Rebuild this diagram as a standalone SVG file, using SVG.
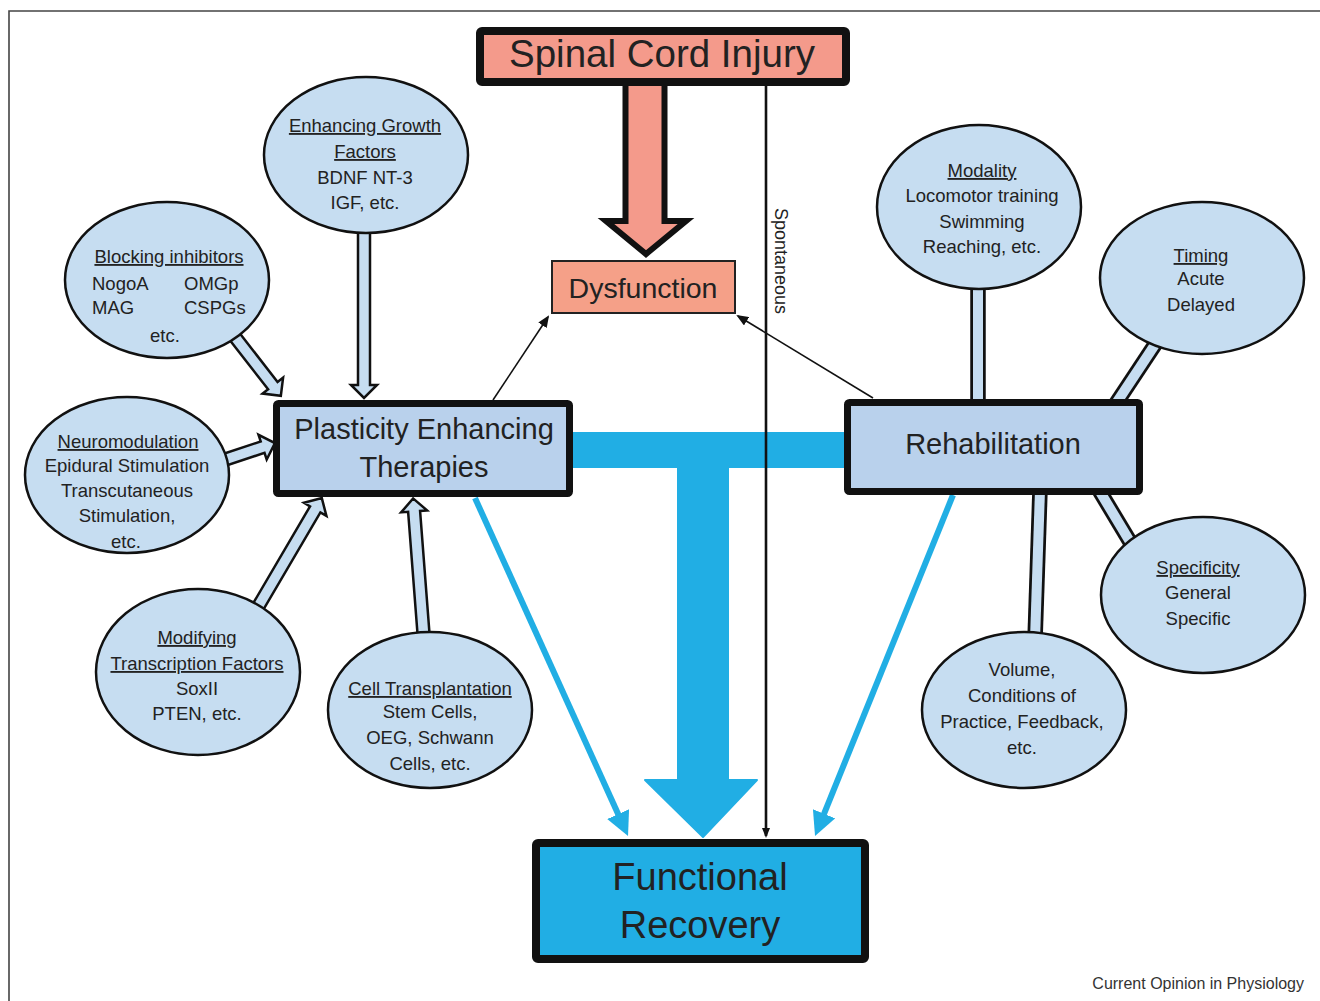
<svg xmlns="http://www.w3.org/2000/svg" width="1320" height="1001" viewBox="0 0 1320 1001">
<defs>
<style>
text{font-family:"Liberation Sans",Arial,sans-serif;fill:#222;text-anchor:middle}
.el{fill:#C6DDF1;stroke:#111;stroke-width:2.5}
.et{font-size:18.5px}
.u{text-decoration:underline}
.hollow{fill:#C6DDF1;stroke:#111;stroke-width:2.5;stroke-linejoin:miter}
.barO{stroke:#111;stroke-width:15.5;fill:none}
.barI{stroke:#C6DDF1;stroke-width:10;fill:none}
.cyan{stroke:#21AEE4;stroke-width:6;fill:none}
.thin{stroke:#111;stroke-width:1.6;fill:none}
</style>
<marker id="mCyan" markerUnits="userSpaceOnUse" markerWidth="24" markerHeight="24" refX="6" refY="12" orient="auto"><path d="M0,0 L24,12 L0,24 z" fill="#21AEE4"/></marker>
<marker id="mBlack" markerUnits="userSpaceOnUse" markerWidth="12" markerHeight="10" refX="10" refY="5" orient="auto"><path d="M0,0 L12,5 L0,10 z" fill="#111"/></marker>
<marker id="mSmall" markerUnits="userSpaceOnUse" markerWidth="10" markerHeight="10" refX="8" refY="4" orient="auto"><path d="M0,0 L10,4 L0,8 z" fill="#111"/></marker>
</defs>
<rect width="1320" height="1001" fill="#fff"/>
<path d="M9,1001 V11 H1320" fill="none" stroke="#444" stroke-width="1.6"/>

<g id="connectors">
<!-- SCI to Dysfunction big arrow -->
<polygon points="625.5,82 664.5,82 664.5,221 686,221 646,254 606,221 625.5,221" fill="#F49A8B" stroke="#111" stroke-width="6" stroke-linejoin="miter"/>
<!-- T connector -->
<rect x="570" y="432" width="278" height="36" fill="#21AEE4"/>
<rect x="677" y="466" width="52" height="316" fill="#21AEE4"/>
<polygon points="645,780 757,780 703,837" fill="#21AEE4" stroke="#21AEE4" stroke-width="2" stroke-linejoin="round"/>
<!-- Spontaneous -->
<line x1="766" y1="86" x2="766" y2="836" stroke="#111" stroke-width="2.6" marker-end="url(#mSmall)"/>
<text x="0" y="0" transform="translate(775,261) rotate(90)" font-size="18">Spontaneous</text>
<!-- cyan arrows -->
<line class="cyan" x1="475" y1="498" x2="620.6" y2="819.6" marker-end="url(#mCyan)"/>
<line class="cyan" x1="953" y1="495" x2="821.8" y2="819.3" marker-end="url(#mCyan)"/>
<!-- thin black arrows to Dysfunction -->
<line class="thin" x1="493" y1="400" x2="548" y2="317" marker-end="url(#mBlack)"/>
<line class="thin" x1="873" y1="398" x2="738" y2="316" marker-end="url(#mBlack)"/>
<!-- hollow arrows into PET -->
<g transform="translate(364,225) rotate(90)"><polygon class="hollow" points="0,-6 160,-6 160,-13 173,0 160,13 160,6 0,6"/></g>
<g transform="translate(228,328) rotate(52.1)"><polygon class="hollow" points="0,-6 73,-6 73,-13 86,0 73,13 73,6 0,6"/></g>
<g transform="translate(218,462) rotate(-18.4)"><polygon class="hollow" points="0,-6 47,-6 47,-13 60,0 47,13 47,6 0,6"/></g>
<g transform="translate(255,612) rotate(-59.6)"><polygon class="hollow" points="0,-6 119,-6 119,-13 132,0 119,13 119,6 0,6"/></g>
<g transform="translate(424,640) rotate(-94.4)"><polygon class="hollow" points="0,-6 129,-6 129,-13 142,0 129,13 129,6 0,6"/></g>
<!-- rehab bars -->
<line class="barO" x1="978" y1="280" x2="978" y2="405"/><line class="barI" x1="978" y1="280" x2="978" y2="405"/>
<line class="barO" x1="1160" y1="337" x2="1115" y2="405"/><line class="barI" x1="1160" y1="337" x2="1115" y2="405"/>
<line class="barO" x1="1099" y1="490" x2="1138" y2="555"/><line class="barI" x1="1099" y1="490" x2="1138" y2="555"/>
<line class="barO" x1="1040" y1="490" x2="1035" y2="640"/><line class="barI" x1="1040" y1="490" x2="1035" y2="640"/>
</g>

<g id="sci">
<rect x="480" y="31" width="366" height="51" rx="2" fill="#F49A8B" stroke="#111" stroke-width="8"/>
<text x="662" y="67" font-size="38.5">Spinal Cord Injury</text>
</g>
<g id="dysfunction">
<rect x="552" y="261" width="183" height="52" fill="#F5A088" stroke="#222" stroke-width="2"/>
<text x="643" y="298" font-size="28.5">Dysfunction</text>
</g>
<g id="pet">
<rect x="276.5" y="403.5" width="293" height="90" rx="2" fill="#B9D1EC" stroke="#111" stroke-width="7"/>
<text x="424" y="439" font-size="29">Plasticity Enhancing</text>
<text x="424" y="477" font-size="29">Therapies</text>
</g>
<g id="rehab">
<rect x="847.5" y="402.5" width="292" height="89" rx="2" fill="#B9D1EC" stroke="#111" stroke-width="7"/>
<text x="993" y="454" font-size="29">Rehabilitation</text>
</g>
<g id="recovery">
<rect x="536" y="843" width="329" height="116" rx="2" fill="#21AEE4" stroke="#111" stroke-width="8"/>
<text x="700" y="890" font-size="38">Functional</text>
<text x="700" y="938" font-size="38">Recovery</text>
</g>

<g id="growth">
<ellipse class="el" cx="366" cy="155" rx="102" ry="78"/>
<text class="et u" x="365" y="132">Enhancing Growth</text>
<text class="et u" x="365" y="158">Factors</text>
<text class="et" x="365" y="184">BDNF NT-3</text>
<text class="et" x="365" y="209">IGF, etc.</text>
</g>
<g id="blocking">
<ellipse class="el" cx="167" cy="280" rx="102" ry="78"/>
<text class="et u" x="169" y="263">Blocking inhibitors</text>
<text class="et" x="92" y="290" text-anchor="start" style="text-anchor:start">NogoA</text>
<text class="et" x="184" y="290" style="text-anchor:start">OMGp</text>
<text class="et" x="92" y="314" style="text-anchor:start">MAG</text>
<text class="et" x="184" y="314" style="text-anchor:start">CSPGs</text>
<text class="et" x="165" y="342">etc.</text>
</g>
<g id="neuromod">
<ellipse class="el" cx="127" cy="475" rx="102" ry="78"/>
<text class="et u" x="128" y="448">Neuromodulation</text>
<text class="et" x="127" y="472">Epidural Stimulation</text>
<text class="et" x="127" y="497">Transcutaneous</text>
<text class="et" x="127" y="522">Stimulation,</text>
<text class="et" x="126" y="548">etc.</text>
</g>
<g id="transcription">
<ellipse class="el" cx="198" cy="672" rx="102" ry="83"/>
<text class="et u" x="197" y="644">Modifying</text>
<text class="et u" x="197" y="670">Transcription Factors</text>
<text class="et" x="197" y="695">SoxII</text>
<text class="et" x="197" y="720">PTEN, etc.</text>
</g>
<g id="cell">
<ellipse class="el" cx="430" cy="710" rx="102" ry="78"/>
<text class="et u" x="430" y="695">Cell Transplantation</text>
<text class="et" x="430" y="718">Stem Cells,</text>
<text class="et" x="430" y="744">OEG, Schwann</text>
<text class="et" x="430" y="770">Cells, etc.</text>
</g>
<g id="modality">
<ellipse class="el" cx="979" cy="207" rx="102" ry="82"/>
<text class="et u" x="982" y="177">Modality</text>
<text class="et" x="982" y="202">Locomotor training</text>
<text class="et" x="982" y="228">Swimming</text>
<text class="et" x="982" y="253">Reaching, etc.</text>
</g>
<g id="timing">
<ellipse class="el" cx="1202" cy="278" rx="102" ry="76"/>
<text class="et u" x="1201" y="262">Timing</text>
<text class="et" x="1201" y="285">Acute</text>
<text class="et" x="1201" y="311">Delayed</text>
</g>
<g id="specificity">
<ellipse class="el" cx="1203" cy="595" rx="102" ry="78"/>
<text class="et u" x="1198" y="574">Specificity</text>
<text class="et" x="1198" y="599">General</text>
<text class="et" x="1198" y="625">Specific</text>
</g>
<g id="volume">
<ellipse class="el" cx="1024" cy="710" rx="102" ry="78"/>
<text class="et" x="1022" y="676">Volume,</text>
<text class="et" x="1022" y="702">Conditions of</text>
<text class="et" x="1022" y="728">Practice, Feedback,</text>
<text class="et" x="1022" y="754">etc.</text>
</g>

<text x="1304" y="989" font-size="16" style="text-anchor:end;fill:#333">Current Opinion in Physiology</text>
</svg>
